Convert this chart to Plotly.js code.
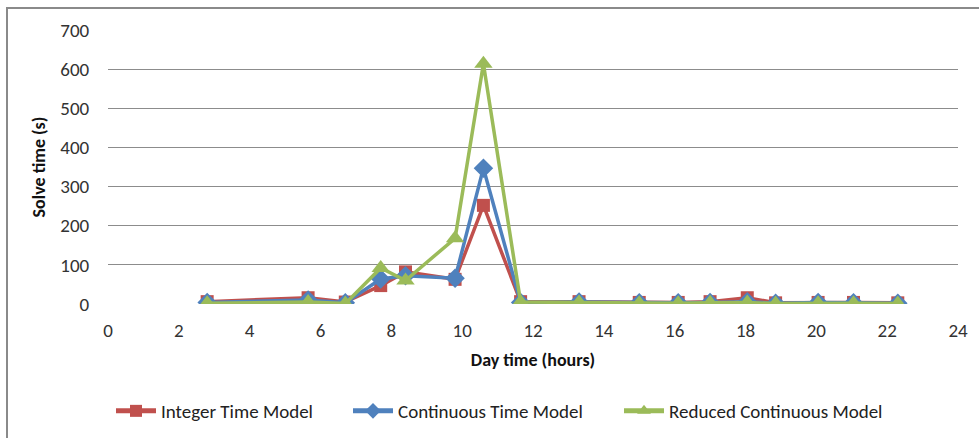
<!DOCTYPE html>
<html>
<head>
<meta charset="utf-8">
<script src="https://cdn.plot.ly/plotly-3.0.1.min.js"></script>
<style>
  html, body { margin: 0; padding: 0; background: #fff; }
  #wrap { position: relative; width: 979px; height: 438px; overflow: hidden; }
  #chart { width: 979px; height: 438px; }
  #frame { position: absolute; left: 6px; top: 7px; width: 990px; height: 450px;
           border-left: 2px solid #8a8a8a; border-top: 2px solid #8a8a8a; pointer-events: none; }
</style>
</head>
<body>
<div id="wrap">
  <div id="chart"></div>
  <div id="frame"></div>
</div>
<script>
// Day time (hours)
const hours = [2.8, 5.65, 6.7, 7.7, 8.4, 9.8, 10.6, 11.65, 13.3, 15.0, 16.1, 17.0, 18.05, 18.85, 20.05, 21.05, 22.3];
// Solve time (s)
const integerModel    = [6, 16, 5, 47, 82, 63, 252, 6, 6, 4, 4, 6, 16, 3, 4, 4, 3];
const continuousModel = [4, 10, 3, 64, 72, 66, 347, 4, 5, 3, 3, 4, 6, 2, 4, 3, 2];
const reducedModel    = [2, 5, 1, 92, 60, 168, 614, 5, 4, 2, 2, 3, 4, 1, 2, 2, 1];
const seriesNames = ["Integer Time Model", "Continuous Time Model", "Reduced Continuous Model"];
const xTicks = [0, 2, 4, 6, 8, 10, 12, 14, 16, 18, 20, 22, 24];
const yTicks = [0, 100, 200, 300, 400, 500, 600, 700];

const FONT = "Carlito, 'Liberation Sans Narrow', 'Liberation Sans', sans-serif";

const traces = [
  { x: hours, y: integerModel, name: seriesNames[0], type: "scatter", mode: "lines+markers",
    line: { color: "#C0504D", width: 3.5 }, marker: { symbol: "square", size: 13, color: "#C0504D" },
    legend: "legend" },
  { x: hours, y: continuousModel, name: seriesNames[1], type: "scatter", mode: "lines+markers",
    line: { color: "#4F81BD", width: 3.5 }, marker: { symbol: "diamond", size: 15, color: "#4F81BD" },
    legend: "legend2" },
  { x: hours, y: reducedModel, name: seriesNames[2], type: "scatter", mode: "lines+markers",
    line: { color: "#9BBB59", width: 3.5 }, marker: { symbol: "triangle-up", size: 16, color: "#9BBB59" },
    legend: "legend3" }
];

const legendBase = { orientation: "h", yref: "container", yanchor: "middle", y: 1 - 411 / 438,
  xanchor: "left", itemsizing: "constant",
  font: { family: FONT, size: 19, color: "#222" }, bgcolor: "rgba(0,0,0,0)", itemwidth: 40 };

const layout = {
  width: 979, height: 438,
  margin: { l: 108, r: 21, t: 30, b: 134, autoexpand: false },
  paper_bgcolor: "#fff", plot_bgcolor: "#fff",
  font: { family: FONT, color: "#333" },
  showlegend: true,
  xaxis: {
    range: [0, 24], tickvals: xTicks, ticktext: xTicks.map(String),
    showgrid: false, zeroline: false, showline: false,
    ticks: "outside", ticklen: 9, tickcolor: "rgba(0,0,0,0)",
    tickfont: { family: FONT, size: 19, color: "#333" },
    title: { text: "<b>Day time (hours)</b>", font: { family: FONT, size: 18, color: "#111" }, standoff: 12 }
  },
  yaxis: {
    range: [0, 700], tickvals: yTicks, ticktext: yTicks.map(String),
    showgrid: true, gridcolor: "#8c8c8c", gridwidth: 1,
    zeroline: false, showline: false,
    ticks: "outside", ticklen: 14, tickcolor: "rgba(0,0,0,0)",
    tickfont: { family: FONT, size: 19, color: "#333" },
    title: { text: "<b>Solve time (s)</b>", font: { family: FONT, size: 18, color: "#111" }, standoff: 10 }
  },
  legend:  Object.assign({}, legendBase, { x: (111 - 108) / 850 }),
  legend2: Object.assign({}, legendBase, { x: (348 - 108) / 850 }),
  legend3: Object.assign({}, legendBase, { x: (619 - 108) / 850 })
};

Plotly.newPlot("chart", traces, layout, { displayModeBar: false, staticPlot: true });
</script>
</body>
</html>
